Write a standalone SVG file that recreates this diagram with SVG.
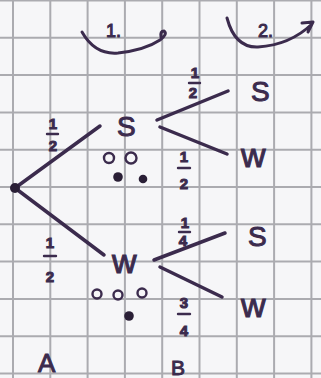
<svg xmlns="http://www.w3.org/2000/svg" width="321" height="378" viewBox="0 0 321 378">
<defs>
<style>
.grid line{stroke:#ababb0;stroke-width:2}
.ink{stroke:#3b2b4d;stroke-linecap:round;stroke-linejoin:round;fill:none}
.br{stroke-width:3.5}
.t{font-family:"Liberation Sans",sans-serif;fill:#3b2b4d;stroke:#3b2b4d;stroke-width:1}
.lt{font-size:28px}
.wt{font-size:34px}
.fr{font-size:15px;font-weight:bold}
.bar{stroke:#3b2b4d;stroke-width:2.4;stroke-linecap:round}
.o{fill:none;stroke:#3b2b4d;stroke-width:2.4}
.f{fill:#2a1f36}
</style>
</defs>
<rect width="321" height="378" fill="#f6f6f8"/>
<g class="grid">
<line x1="13" y1="0" x2="13" y2="378"/>
<line x1="50.3" y1="0" x2="50.3" y2="378"/>
<line x1="87.6" y1="0" x2="87.6" y2="378"/>
<line x1="124.9" y1="0" x2="124.9" y2="378"/>
<line x1="162.2" y1="0" x2="162.2" y2="378"/>
<line x1="199.5" y1="0" x2="199.5" y2="378"/>
<line x1="236.8" y1="0" x2="236.8" y2="378"/>
<line x1="274.1" y1="0" x2="274.1" y2="378"/>
<line x1="311.4" y1="0" x2="311.4" y2="378"/>
<line x1="0" y1="0.5" x2="321" y2="0.5"/>
<line x1="0" y1="37.8" x2="321" y2="37.8"/>
<line x1="0" y1="75.1" x2="321" y2="75.1"/>
<line x1="0" y1="112.4" x2="321" y2="112.4"/>
<line x1="0" y1="149.7" x2="321" y2="149.7"/>
<line x1="0" y1="187" x2="321" y2="187"/>
<line x1="0" y1="224.3" x2="321" y2="224.3"/>
<line x1="0" y1="261.6" x2="321" y2="261.6"/>
<line x1="0" y1="298.9" x2="321" y2="298.9"/>
<line x1="0" y1="336.2" x2="321" y2="336.2"/>
<line x1="0" y1="373.5" x2="321" y2="373.5"/>
</g>
<g id="stages">
<path class="ink" stroke-width="3" d="M82,32 Q95,55 118,53 Q145,50 160,40 Q168,34 164,31 Q160,31 161,37"/>
<text class="t" x="106" y="37" font-size="18">1.</text>
<path class="ink" stroke-width="3" d="M227,18 Q235,48 258,47 Q290,45 312,24 M302,23 L313,22 L308,32"/>
<text class="t" x="258" y="37" font-size="18">2.</text>
</g>
<g id="connectors" class="ink br">
<line x1="15" y1="188" x2="100" y2="126"/>
<line x1="15" y1="188" x2="104" y2="255"/>
<line x1="157" y1="120" x2="228" y2="91"/>
<line x1="160" y1="127" x2="227" y2="154"/>
<line x1="154" y1="260" x2="225" y2="233"/>
<line x1="160" y1="267" x2="222" y2="297"/>
</g>
<g id="root"><circle cx="15" cy="188" r="5" class="f"/></g>
<g id="n-S1">
<text class="t lt" x="117" y="136">S</text>
<circle cx="109" cy="158" r="5" class="o"/>
<circle cx="131" cy="158" r="5.5" class="o"/>
<circle cx="118" cy="177" r="4.8" class="f"/>
<circle cx="143" cy="179" r="4.3" class="f"/>
</g>
<g id="n-W1">
<text class="t wt" x="112" y="273">w</text>
<circle cx="97" cy="294" r="4.5" class="o"/>
<circle cx="118" cy="295" r="4.5" class="o"/>
<circle cx="142" cy="293" r="4.5" class="o"/>
<circle cx="129" cy="316" r="4.8" class="f"/>
</g>
<g id="n-SS"><text class="t lt" x="251" y="101">S</text></g>
<g id="n-SW"><text class="t wt" x="241" y="167">w</text></g>
<g id="n-WS"><text class="t lt" x="248" y="246">S</text></g>
<g id="n-WW"><text class="t wt" x="241" y="317">w</text></g>
<g id="labels">
<text class="t fr" x="53" y="129" text-anchor="middle">1</text>
<line class="bar" x1="47" y1="134" x2="58" y2="134"/>
<text class="t fr" x="53" y="151" text-anchor="middle">2</text>
<text class="t fr" x="50" y="248" text-anchor="middle">1</text>
<line class="bar" x1="44" y1="256" x2="56" y2="256"/>
<text class="t fr" x="50" y="282" text-anchor="middle">2</text>
<text class="t fr" x="195" y="78" text-anchor="middle">1</text>
<line class="bar" x1="189" y1="83" x2="200" y2="83"/>
<text class="t fr" x="193" y="98" text-anchor="middle">2</text>
<text class="t fr" x="184" y="162" text-anchor="middle">1</text>
<line class="bar" x1="178" y1="168" x2="190" y2="168"/>
<text class="t fr" x="184" y="189" text-anchor="middle">2</text>
<text class="t fr" x="185" y="228" text-anchor="middle">1</text>
<line class="bar" x1="179" y1="232" x2="190" y2="232"/>
<text class="t fr" x="183" y="246" text-anchor="middle">4</text>
<text class="t fr" x="184" y="308" text-anchor="middle">3</text>
<line class="bar" x1="178" y1="314" x2="190" y2="314"/>
<text class="t fr" x="184" y="336" text-anchor="middle">4</text>
<text class="t" x="38" y="372" font-size="26">A</text>
<text class="t" x="171" y="375" font-size="21">B</text>
</g>
</svg>
